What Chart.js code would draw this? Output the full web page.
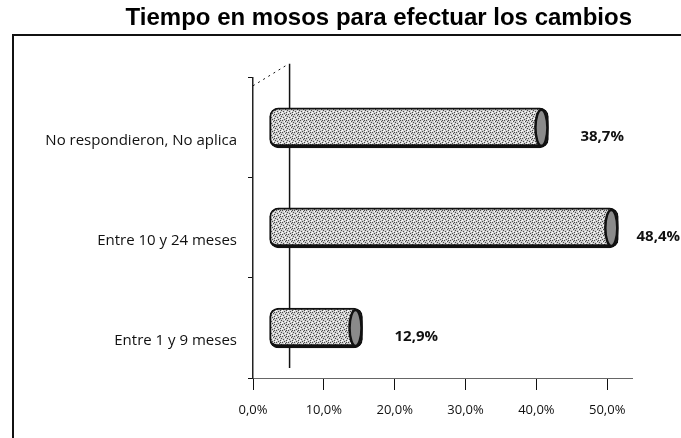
<!DOCTYPE html>
<html>
<head>
<meta charset="utf-8">
<script src="https://cdn.jsdelivr.net/npm/chart.js@4/dist/chart.umd.min.js"></script>
<style>
  body { margin: 0; background: #fff; }
  #wrap { position: relative; width: 681px; height: 438px; }
  #frame {
    position: absolute; left: 12px; top: 34px; width: 680px; height: 410px;
    border-left: 2px solid #111; border-top: 2px solid #111;
  }
  #chart { position: absolute; left: 0; top: 0; }
</style>
</head>
<body>
<div id="wrap">
  <div id="frame"></div>
  <canvas id="chart" width="681" height="438"></canvas>
</div>
<script>
const titleText = 'Tiempo en mosos para efectuar los cambios';
const categories = ['No respondieron, No aplica', 'Entre 10 y 24 meses', 'Entre 1 y 9 meses'];
const values = [38.7, 48.4, 12.9];
const xTicks = [0, 10, 20, 30, 40, 50];

const depth = 20; // 3d offset of the back wall, px

function pct(v) {
  return v.toFixed(1).replace('.', ',') + '%';
}

function makeStipple(ctx) {
  const c = document.createElement('canvas');
  c.width = 6;
  c.height = 6;
  const g = c.getContext('2d');
  g.fillStyle = '#cfcfcf';
  g.fillRect(0, 0, 6, 6);
  g.fillStyle = '#4a4a4a';
  [[0, 0], [3, 1], [1, 3], [4, 4], [5, 2], [2, 5], [4, 0]].forEach(([x, y]) => g.fillRect(x, y, 1, 1));
  g.fillStyle = '#ffffff';
  [[2, 1], [5, 5], [0, 4], [3, 3]].forEach(([x, y]) => g.fillRect(x, y, 1, 1));
  return ctx.createPattern(c, 'repeat');
}

// back wall line + cylinder caps + value labels
const decor = {
  id: 'decor',
  beforeDatasetsDraw(chart) {
    const ctx = chart.ctx;
    const area = chart.chartArea;
    const xb = chart.scales.xb;
    const x0 = xb.getPixelForValue(0) + depth;
    ctx.save();
    ctx.strokeStyle = '#111';
    ctx.lineWidth = 1.5;
    ctx.beginPath();
    ctx.moveTo(x0, area.top - 14);
    ctx.lineTo(x0, area.bottom - 10);
    ctx.stroke();
    ctx.setLineDash([2, 4]);
    ctx.lineWidth = 1;
    ctx.beginPath();
    ctx.moveTo(area.left, area.top + 8);
    ctx.lineTo(x0 - 4, area.top - 12);
    ctx.stroke();
    ctx.restore();
  },
  afterDatasetsDraw(chart) {
    const ctx = chart.ctx;
    const meta = chart.getDatasetMeta(0);
    ctx.save();
    meta.data.forEach((bar, i) => {
      const h = bar.height;
      ctx.beginPath();
      ctx.ellipse(bar.x - 7, bar.y, 6, h / 2 - 2, 0, 0, Math.PI * 2);
      ctx.fillStyle = '#8a8a8a';
      ctx.fill();
      ctx.lineWidth = 2.5;
      ctx.strokeStyle = '#111';
      ctx.stroke();

      const txt = pct(values[i]);
      ctx.fillStyle = '#111';
      ctx.font = 'bold 15px "Open Sans"';
      ctx.textAlign = 'left';
      ctx.textBaseline = 'middle';
      // keep the label inside the canvas
      const tx = Math.min(bar.x + 32, chart.width - ctx.measureText(txt).width - 1);
      ctx.fillText(txt, tx, bar.y + 9);
    });
    ctx.restore();
  }
};

const ctx = document.getElementById('chart').getContext('2d');

new Chart(ctx, {
  type: 'bar',
  data: {
    labels: categories,
    datasets: [{
      data: values,
      xAxisID: 'xb',
      backgroundColor: makeStipple(ctx),
      borderColor: '#111',
      borderWidth: {top: 2, right: 2, bottom: 4, left: 2},
      borderSkipped: false,
      borderRadius: 9,
      barThickness: 40,
      clip: false
    }]
  },
  options: {
    indexAxis: 'y',
    responsive: false,
    animation: false,
    layout: {padding: {left: 0, right: 49, top: 0, bottom: 0}},
    plugins: {
      legend: {display: false},
      tooltip: {enabled: false},
      title: {
        display: true,
        text: titleText,
        align: 'end',
        color: '#000',
        font: {family: 'Liberation Sans', size: 24, weight: 'bold'},
        padding: {top: 4, bottom: 45}
      }
    },
    scales: {
      x: {
        type: 'linear',
        min: 0,
        max: 53.5,
        afterBuildTicks: s => { s.ticks = xTicks.map(v => ({value: v})); },
        afterFit: s => { s.height = 60; },
        ticks: {
          callback: v => pct(v),
          color: '#111',
          font: {family: 'Open Sans', size: 13},
          padding: 12
        },
        grid: {display: true, drawOnChartArea: false, drawTicks: true, tickLength: 12, tickColor: '#111'},
        border: {display: true, color: '#666', dash: [2, 3], width: 1}
      },
      xb: {
        type: 'linear',
        axis: 'x',
        position: 'bottom',
        display: false,
        min: -2.3,
        max: 50.3
      },
      y: {
        afterFit: s => { s.width = 253; },
        ticks: {
          color: '#111',
          font: {family: 'Open Sans', size: 15},
          padding: 11,
          labelOffset: 13
        },
        grid: {display: true, drawOnChartArea: false, drawTicks: true, tickLength: 5, tickColor: '#111'},
        border: {display: true, color: '#222', dash: [3, 2], width: 1.5}
      }
    }
  },
  plugins: [decor]
});
</script>
</body>
</html>
